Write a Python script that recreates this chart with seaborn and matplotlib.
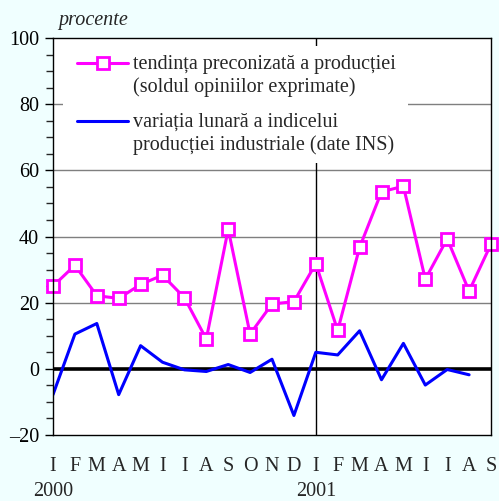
import numpy as np
import pandas as pd
import matplotlib
matplotlib.use("Agg")
import matplotlib.pyplot as plt
import matplotlib.transforms as mtrans
from matplotlib.patches import Rectangle
from matplotlib.lines import Line2D
import seaborn as sns

################ DATA ################
months = ['I', 'F', 'M', 'A', 'M', 'I', 'I', 'A', 'S', 'O', 'N', 'D',
          'I', 'F', 'M', 'A', 'M', 'I', 'I', 'A', 'S']
years = ['2000', '2001']
year_pos = [0, 12]

# tendinta preconizata a productiei (Jan 2000 - Sep 2001)
tendinta = [25.0, 31.3, 22.1, 21.3, 25.5, 28.3, 21.5, 9.0, 42.2, 10.5, 19.6, 20.3,
            31.8, 11.6, 36.7, 53.5, 55.2, 27.1, 39.3, 23.5, 37.7]
# variatia lunara a indicelui productiei industriale (Jan 2000 - Aug 2001)
variatia = [-7.8, 10.5, 13.7, -7.8, 7.0, 2.0, -0.3, -0.8, 1.3, -1.1, 2.9, -14.1,
            5.0, 4.2, 11.5, -3.3, 7.7, -4.9, -0.2, -1.8]

lbl_t = "tendința preconizată a producției\n(soldul opiniilor exprimate)"
lbl_v = "variația lunară a indicelui\nproducției industriale (date INS)"

df_t = pd.DataFrame({'luna': np.arange(len(tendinta)), 'val': tendinta})
df_v = pd.DataFrame({'luna': np.arange(len(variatia)), 'val': variatia})

MAG = '#FF00FF'
BLU = '#0000FF'
FS = 14.5

################ STYLE ################
sns.set_style("white")
plt.rcParams['font.family'] = ['Liberation Serif', 'DejaVu Serif']
plt.rcParams['axes.unicode_minus'] = False

W, H = 499, 501
fig = plt.figure(figsize=(W / 100, H / 100), dpi=100, facecolor='#F0FFFF')
ax = fig.add_axes([53 / W, 66 / H, 438 / W, 397 / H])
ax.set_facecolor('white')

################ GRID / REFERENCE LINES ################
for g in [20, 40, 60, 80]:
    ax.axhline(g, color='#7f7f7f', lw=1, zorder=1)
ax.axhline(0, color='black', lw=2.6, zorder=2)
ax.axvline(12, color='black', lw=1, zorder=1)

################ LINES ################
sns.lineplot(data=df_t, x='luna', y='val', ax=ax, color=MAG, lw=2.2,
             marker='s', markersize=8.5, markerfacecolor='white',
             markeredgecolor=MAG, markeredgewidth=2,
             clip_on=False, zorder=4, legend=False)
sns.lineplot(data=df_v, x='luna', y='val', ax=ax, color=BLU, lw=2.2,
             zorder=3, legend=False)

################ AXES ################
ax.set_xlim(0, 20)
ax.set_ylim(-20, 100)
ax.set_xlabel('')
ax.set_ylabel('')

ax.set_yticks([-20, 0, 20, 40, 60, 80, 100])
ax.set_yticklabels(['–20', '0', '20', '40', '60', '80', '100'])
ax.set_yticks(np.arange(-20, 101, 5), minor=True)
ax.tick_params(axis='y', which='major', direction='out', length=6, width=1,
               labelsize=FS, pad=4, left=True, colors='black')
ax.tick_params(axis='y', which='minor', direction='out', length=5, width=1, left=True)

ax.set_xticks(np.arange(len(months)))
ax.set_xticklabels(months)
ax.tick_params(axis='x', which='major', length=0, labelsize=FS, pad=16)

for s in ax.spines.values():
    s.set_color('black')
    s.set_linewidth(1)
    s.set_zorder(6)

trans = mtrans.blended_transform_factory(ax.transData, fig.transFigure)
for yr, p in zip(years, year_pos):
    ax.text(p, 0.5 / H, yr, transform=trans, ha='center', va='bottom', fontsize=FS)

fig.text(58 / W, 1 - 20 / H, 'procente', fontsize=FS, style='italic',
         ha='left', va='center')

################ LEGEND (handles aligned with first text line) ################
def px(x, y):
    return (x - 53) / 438, (435 - y) / 397

x0, y0 = px(63, 163)
x1, y1 = px(408, 46)
ax.add_patch(Rectangle((x0, y0), x1 - x0, y1 - y0, transform=ax.transAxes,
                       facecolor='white', edgecolor='none', zorder=5))

for (hy, label, col, mk) in [(63, lbl_t, MAG, 's'), (121, lbl_v, BLU, None)]:
    ha, hb = px(77, hy)
    hc, _ = px(128, hy)
    ax.add_line(Line2D([ha, hc], [hb, hb], transform=ax.transAxes, color=col,
                       lw=2.2, zorder=6))
    if mk:
        hm, _ = px(102.5, hy)
        ax.add_line(Line2D([hm], [hb], transform=ax.transAxes, marker=mk,
                           markersize=8.5, markerfacecolor='white',
                           markeredgecolor=col, markeredgewidth=2, zorder=7))
    tx, ty = px(133, hy - 8)
    ax.text(tx, ty, label, transform=ax.transAxes, fontsize=FS, ha='left',
            va='top', linespacing=1.25, zorder=7)

fig.savefig("out.png", dpi=100, facecolor=fig.get_facecolor())
